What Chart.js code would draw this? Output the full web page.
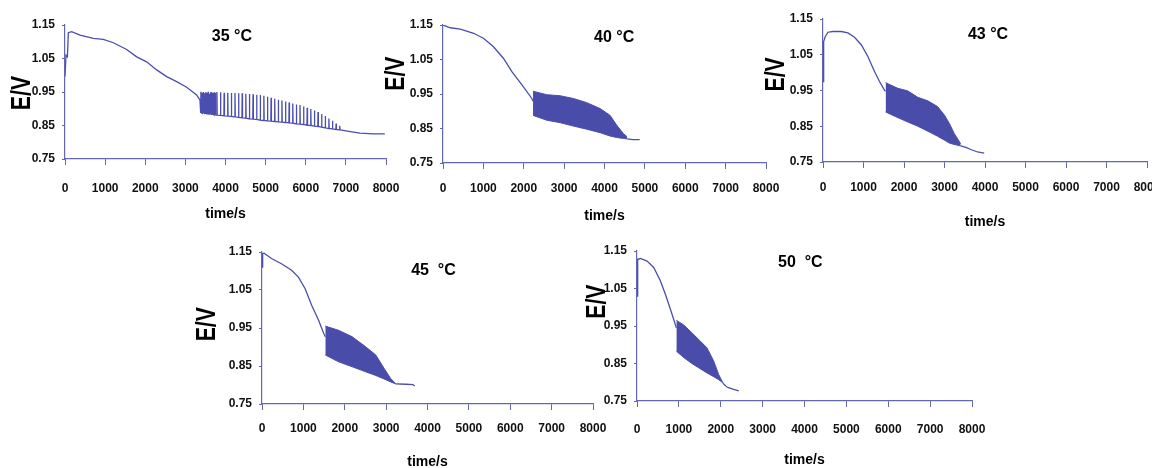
<!DOCTYPE html>
<html lang="en">
<head>
<meta charset="UTF-8">
<title>E/V against time at five temperatures</title>
<script src="https://cdn.jsdelivr.net/npm/chart.js"></script>
<style>
  body { margin: 0; background: #fff; }
  #wrap { position: relative; width: 1152px; height: 468px; }
  #wrap canvas { position: absolute; left: 0; top: 0; }
</style>
</head>
<body>
<div id="wrap">
  <canvas id="c35" width="1152" height="468"></canvas>
  <canvas id="c40" width="1152" height="468"></canvas>
  <canvas id="c43" width="1152" height="468"></canvas>
  <canvas id="c45" width="1152" height="468"></canvas>
  <canvas id="c50" width="1152" height="468"></canvas>
</div>
<script>
// axis ticks
const xTicks = [0, 1000, 2000, 3000, 4000, 5000, 6000, 7000, 8000];
const yTicks = [0.75, 0.85, 0.95, 1.05, 1.15];

// 35 C: smooth discharge, then single spikes, then tail
const t35a = [0, 25, 60, 83, 166, 374, 706, 955, 1205, 1537, 1786, 2035, 2284, 2534, 2783, 3032, 3281, 3364];
const e35a = [0.996, 1.06, 1.055, 1.127, 1.13, 1.12, 1.11, 1.107, 1.097, 1.077, 1.055, 1.04, 1.016, 0.996, 0.981, 0.964, 0.941, 0.926];
const spikeT35 = [3380, 3410, 3440, 3470, 3500, 3530, 3560, 3590, 3620, 3650, 3680, 3710, 3740, 3780, 3870, 3960,
  4050, 4140, 4230, 4320, 4410, 4500, 4590, 4680, 4770, 4860, 4950, 5040, 5130, 5220, 5310, 5400,
  5490, 5580, 5670, 5760, 5850, 5940, 6030, 6120, 6210, 6300, 6390, 6480, 6570, 6660, 6750, 6840];
const spikeHi35 = [0.951, 0.948, 0.95, 0.946, 0.95, 0.947, 0.951, 0.945, 0.949, 0.95, 0.947, 0.949, 0.948, 0.95, 0.949, 0.948,
  0.948, 0.947, 0.947, 0.946, 0.946, 0.945, 0.944, 0.943, 0.942, 0.941, 0.939, 0.936, 0.933, 0.93, 0.927, 0.925,
  0.922, 0.919, 0.916, 0.913, 0.911, 0.907, 0.903, 0.899, 0.895, 0.89, 0.884, 0.878, 0.871, 0.864, 0.856, 0.849];
const spikeLo35 = [0.889, 0.887, 0.888, 0.886, 0.887, 0.885, 0.886, 0.884, 0.885, 0.883, 0.884, 0.882, 0.882, 0.881, 0.88, 0.879,
  0.878, 0.877, 0.876, 0.874, 0.873, 0.872, 0.87, 0.869, 0.868, 0.866, 0.865, 0.864, 0.863, 0.862, 0.861, 0.86,
  0.859, 0.858, 0.857, 0.855, 0.854, 0.853, 0.851, 0.85, 0.848, 0.847, 0.845, 0.843, 0.841, 0.84, 0.838, 0.837];
const t35b = [6900, 7000, 7350, 7680, 7970];
const e35b = [0.836, 0.834, 0.827, 0.825, 0.825];

// 40 C
const t40a = [0, 180, 430, 760, 1010, 1250, 1500, 1710, 1960, 2200, 2230];
const e40a = [1.15, 1.142, 1.138, 1.126, 1.111, 1.087, 1.053, 1.014, 0.976, 0.937, 0.929];
const band40 = [2230, 2570, 2900, 3230, 3560, 3890, 4140, 4300, 4470, 4560];
const hi40 = [0.958, 0.948, 0.945, 0.937, 0.925, 0.908, 0.888, 0.86, 0.835, 0.826];
const lo40 = [0.888, 0.874, 0.867, 0.857, 0.848, 0.838, 0.828, 0.824, 0.821, 0.82];
const t40b = [4560, 4700, 4870];
const e40b = [0.82, 0.818, 0.818];

// 43 C
const t43a = [0, 16, 57, 123, 246, 451, 615, 779, 944, 1108, 1272, 1395, 1518, 1545];
const e43a = [0.975, 1.087, 1.101, 1.113, 1.115, 1.115, 1.111, 1.099, 1.078, 1.045, 1.003, 0.975, 0.951, 0.948];
const band43 = [1545, 1850, 2090, 2340, 2590, 2830, 3000, 3120, 3240, 3400];
const hi43 = [0.972, 0.956, 0.949, 0.931, 0.921, 0.905, 0.881, 0.858, 0.83, 0.801];
const lo43 = [0.89, 0.874, 0.862, 0.85, 0.836, 0.822, 0.811, 0.803, 0.799, 0.795];
const t43b = [3400, 3530, 3650, 3815, 3980];
const e43b = [0.795, 0.791, 0.785, 0.778, 0.775];

// 45 C
const t45a = [0, 16, 50, 230, 470, 715, 880, 1040, 1200, 1365, 1490, 1530];
const e45a = [1.11, 1.146, 1.147, 1.133, 1.119, 1.102, 1.084, 1.054, 1.01, 0.971, 0.936, 0.927];
const band45 = [1530, 1850, 2180, 2500, 2750, 2950, 3110, 3230];
const hi45 = [0.955, 0.944, 0.927, 0.901, 0.879, 0.844, 0.817, 0.804];
const lo45 = [0.879, 0.861, 0.848, 0.835, 0.825, 0.816, 0.808, 0.803];
const t45b = [3230, 3480, 3650, 3690];
const e45b = [0.803, 0.802, 0.801, 0.797];

// 50 C
const t50a = [0, 16, 80, 240, 400, 560, 680, 800, 915, 940];
const e50a = [1.03, 1.128, 1.13, 1.123, 1.106, 1.07, 1.034, 0.994, 0.954, 0.945];
const band50 = [940, 1115, 1310, 1510, 1670, 1830, 1950, 2070, 2150];
const hi50 = [0.965, 0.953, 0.932, 0.91, 0.892, 0.857, 0.821, 0.794, 0.787];
const lo50 = [0.883, 0.866, 0.85, 0.836, 0.825, 0.815, 0.807, 0.797, 0.787];
const t50b = [2150, 2310, 2430];
const e50b = [0.787, 0.781, 0.777];

const lineColor = '#4a4eae';
const fillColor = '#4a4caa';
const axisColor = '#6266b4';
const font = "'Liberation Sans', Arial, sans-serif";

function pts(ts, es) {
  return ts.map((t, i) => ({ x: t, y: es[i] }));
}

// each spike: up from the low value and straight back down
function spikes(ts, his, los) {
  const out = [];
  ts.forEach((t, i) => {
    out.push({ x: t, y: los[i] }, { x: t + 6, y: his[i] }, { x: t + 14, y: los[i] });
  });
  return out;
}

function lineSet(data, extra) {
  return Object.assign({ data: data, borderColor: lineColor, borderWidth: 1.3, pointRadius: 0, tension: 0, fill: false }, extra || {});
}

// texts that sit in / beside each panel
const panelText = {
  id: 'panelText',
  afterDraw(chart, args, o) {
    const ctx = chart.ctx, xs = chart.scales.x, ys = chart.scales.y, a = chart.chartArea;
    ctx.save();
    ctx.fillStyle = '#000';
    ctx.textAlign = 'center';
    ctx.textBaseline = 'middle';
    ctx.font = 'bold 16px ' + font;
    ctx.fillText(o.temp, xs.getPixelForValue(o.tempAt[0]), ys.getPixelForValue(o.tempAt[1]));
    ctx.font = 'bold 14px ' + font;
    ctx.fillText('time/s', (a.left + a.right) / 2, a.bottom + o.timeDy);
    // the E/V label in the picture is tall and squeezed
    ctx.translate(a.left - o.ev[0], ys.getPixelForValue(o.ev[1]));
    ctx.rotate(-Math.PI / 2);
    ctx.scale(0.76, 1);
    ctx.font = 'bold 28px ' + font;
    ctx.fillText('E/V', 0, 0);
    ctx.restore();
  }
};

function makePanel(p, datasets) {
  const [L, T, R, B] = p.box;
  new Chart(document.getElementById(p.id), {
    type: 'line',
    data: { datasets: datasets },
    plugins: [panelText],
    options: {
      responsive: false,
      animation: false,
      events: [],
      layout: { padding: { left: L - 40, top: T, right: 1152 - R, bottom: 468 - B - 40 } },
      plugins: {
        legend: { display: false },
        tooltip: { enabled: false },
        panelText: { temp: p.temp, tempAt: p.tempAt, ev: p.ev, timeDy: p.timeDy }
      },
      scales: {
        x: {
          type: 'linear', min: 0, max: 8000,
          afterBuildTicks: s => { s.ticks = xTicks.map(v => ({ value: v })); },
          afterFit: s => { s.height = 40; s.paddingLeft = 0; s.paddingRight = 0; },
          ticks: { autoSkip: false, maxRotation: 0, padding: p.xPad, color: '#111',
                   font: { family: font, weight: 'bold', size: 12 }, callback: v => String(v) },
          grid: { drawOnChartArea: false, drawTicks: true, tickLength: 6, color: axisColor },
          border: { display: true, color: axisColor, width: 1.2 }
        },
        y: {
          min: 0.75, max: 1.15,
          afterBuildTicks: s => { s.ticks = yTicks.map(v => ({ value: v })); },
          afterFit: s => { s.width = 40; s.paddingTop = 0; s.paddingBottom = 0; },
          ticks: { padding: 7, color: '#111', font: { family: font, weight: 'bold', size: 12 },
                   callback: v => v.toFixed(2) },
          grid: { drawOnChartArea: false, drawTicks: true, tickLength: 3, color: axisColor },
          border: { display: true, color: axisColor, width: 1.2 }
        }
      }
    }
  });
}

function bandSets(ta, ea, tb, hi, lo, tt, et) {
  return [
    lineSet(pts(ta, ea)),
    lineSet(pts(tb, hi), { borderWidth: 1 }),
    lineSet(pts(tb, lo), { borderWidth: 1, fill: '-1', backgroundColor: fillColor }),
    lineSet(pts(tt, et))
  ];
}

makePanel({ id: 'c35', box: [65, 25, 386, 159], temp: '35 °C', tempAt: [4160, 1.115], ev: [43, 0.947], timeDy: 55, xPad: 16 },
  [lineSet(pts(t35a, e35a).concat(spikes(spikeT35, spikeHi35, spikeLo35), pts(t35b, e35b)), { borderWidth: 1.3 })]);

makePanel({ id: 'c40', box: [443, 25, 766, 163], temp: '40 °C', tempAt: [4240, 1.113], ev: [47, 1.009], timeDy: 53, xPad: 12 },
  bandSets(t40a, e40a, band40, hi40, lo40, t40b, e40b));

makePanel({ id: 'c43', box: [823, 19, 1147, 162], temp: '43 °C', tempAt: [4075, 1.106], ev: [47, 0.995], timeDy: 60, xPad: 12 },
  bandSets(t43a, e43a, band43, hi43, lo43, t43b, e43b));

makePanel({ id: 'c45', box: [262, 252, 593, 404], temp: '45  °C', tempAt: [4145, 1.10], ev: [55, 0.96], timeDy: 58, xPad: 11 },
  bandSets(t45a, e45a, band45, hi45, lo45, t45b, e45b));

makePanel({ id: 'c50', box: [637, 251, 972, 401], temp: '50  °C', tempAt: [3900, 1.119], ev: [40, 1.015], timeDy: 59, xPad: 15 },
  bandSets(t50a, e50a, band50, hi50, lo50, t50b, e50b));
</script>
</body>
</html>
